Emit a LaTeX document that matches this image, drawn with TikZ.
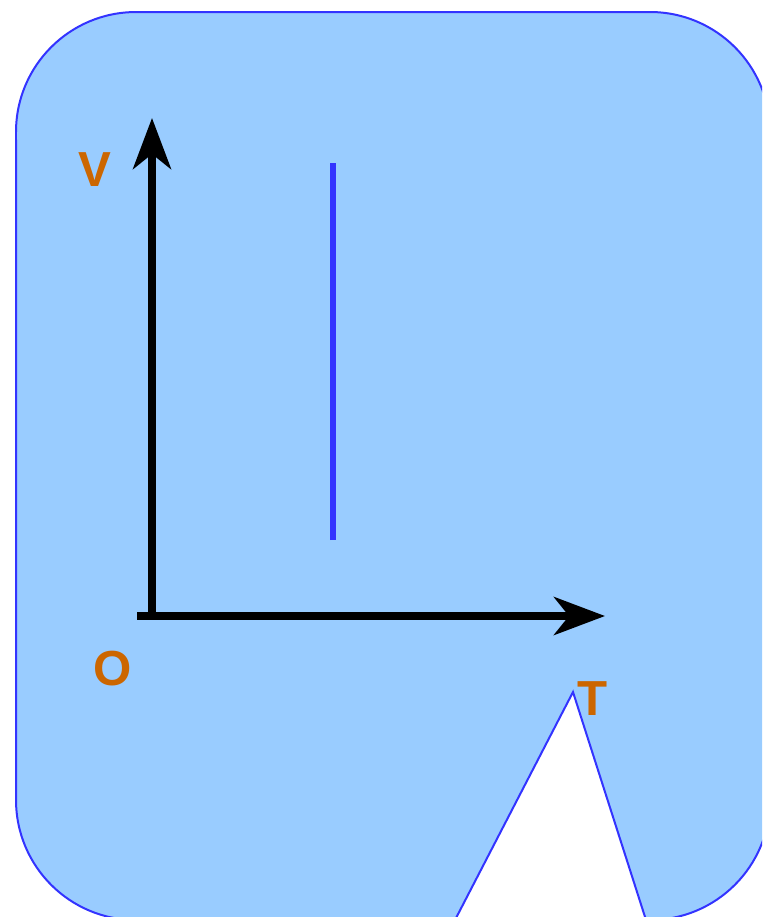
\documentclass[tikz,border=0pt]{standalone}
\usepackage{fontspec}
\setsansfont{Liberation Sans}
\usepackage{tikz}
\usetikzlibrary{arrows.meta,positioning}
\definecolor{vtfill}{RGB}{153,204,255}
\definecolor{vtblue}{RGB}{51,51,255}
\definecolor{vtorange}{RGB}{204,102,0}
\tikzset{
  vtbubble/.style={draw=vtblue, line width=.04cm, fill=vtfill},
  vtaxis/.style={-{Stealth[length=1.02cm, width=.76cm, inset=.3cm]}, line width=.15cm, draw=black},
  vtlabel/.style={text=vtorange, font=\sffamily\bfseries\fontsize{28}{30}\selectfont, inner sep=0pt},
  vtiso/.style={line width=.135cm, draw=vtblue}
}
\begin{document}
\begin{tikzpicture}[x=.02cm, y=.02cm]
  \useasboundingbox (0,0) rectangle (762,-917);
  \clip (0,0) rectangle (762,-917);
  \path[vtbubble] (455,-920) -- (136,-920) arc[start angle=270, end angle=180, radius=2.4cm]
    -- (16,-132) arc[start angle=180, end angle=90, radius=2.4cm]
    -- (650,-12) arc[start angle=90, end angle=0, radius=2.4cm]
    -- (770,-800) arc[start angle=0, end angle=-90, radius=2.4cm]
    -- (646,-920) -- (573,-692) -- cycle;
  \coordinate (o) at (152,-616);
  \coordinate (tstart) at (137,-616);
  \coordinate (vtip) at (152,-118);
  \coordinate (ttip) at (605,-616);
  \draw[vtaxis] (o) -- (vtip);
  \draw[vtaxis] (tstart) -- (ttip);
  \coordinate (isotop) at (333,-163);
  \coordinate (isobot) at (333,-540);
  \draw[vtiso] (isobot) -- (isotop);
  \node[vtlabel] (vlab) at (95,-170) {V};
  \node[vtlabel] (olab) at (113,-669) {O};
  \node[vtlabel] (tlab) at (593,-699) {T};
\end{tikzpicture}
\end{document}
